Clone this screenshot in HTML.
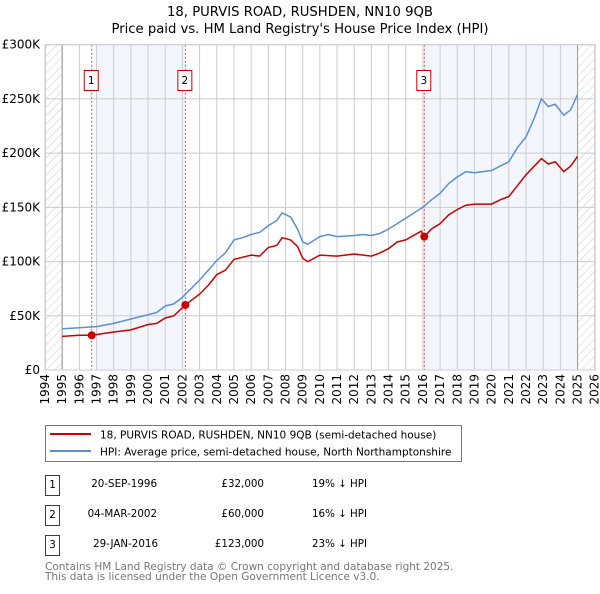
<!DOCTYPE html>
<html><head><meta charset="utf-8"><style>
body{margin:0;background:#fff;font-family:"DejaVu Sans","Liberation Sans",sans-serif}
svg text{font-family:"DejaVu Sans","Liberation Sans",sans-serif}
</style></head><body>
<svg id="c" width="600" height="590" xmlns="http://www.w3.org/2000/svg">
<defs><pattern id="h" width="6" height="6" patternUnits="userSpaceOnUse" patternTransform="rotate(45)"><line x1="0" y1="0" x2="0" y2="6" stroke="#ccc" stroke-width="1"/></pattern></defs>
<text x="300" y="16" text-anchor="middle" font-size="13.2">18, PURVIS ROAD, RUSHDEN, NN10 9QB</text>
<text x="300" y="33" text-anchor="middle" font-size="13.2">Price paid vs. HM Land Registry's House Price Index (HPI)</text>
<g id="plot"></g>
<g>
<rect x="45.5" y="425.5" width="416" height="36" fill="#fff" stroke="#777"/>
<line x1="50" y1="434" x2="91" y2="434" stroke="#cc0000" stroke-width="2"/>
<text x="100" y="438.5" font-size="10.5">18, PURVIS ROAD, RUSHDEN, NN10 9QB (semi-detached house)</text>
<line x1="50" y1="451" x2="91" y2="451" stroke="#5b8fd4" stroke-width="2"/>
<text x="100" y="455.5" font-size="10.5">HPI: Average price, semi-detached house, North Northamptonshire</text>
</g>
<g font-size="10.3">
<rect x="45.5" y="475.5" width="14" height="20" fill="#fff" stroke="#cc0000"/><text x="52.5" y="488" text-anchor="middle">1</text>
<text x="157" y="487" text-anchor="end">20-SEP-1996</text><text x="264" y="487" text-anchor="end">£32,000</text><text x="312" y="487">19% ↓ HPI</text>
<rect x="45.5" y="505.5" width="14" height="20" fill="#fff" stroke="#cc0000"/><text x="52.5" y="518" text-anchor="middle">2</text>
<text x="157" y="517" text-anchor="end">04-MAR-2002</text><text x="264" y="517" text-anchor="end">£60,000</text><text x="312" y="517">16% ↓ HPI</text>
<rect x="45.5" y="535.5" width="14" height="20" fill="#fff" stroke="#cc0000"/><text x="52.5" y="548" text-anchor="middle">3</text>
<text x="158" y="547" text-anchor="end">29-JAN-2016</text><text x="264" y="547" text-anchor="end">£123,000</text><text x="312" y="547">23% ↓ HPI</text>
</g>
<text x="45" y="570" font-size="10.5" fill="#777">Contains HM Land Registry data © Crown copyright and database right 2025.</text>
<text x="45" y="580" font-size="10.5" fill="#777">This data is licensed under the Open Government Licence v3.0.</text>
</svg>
<script>
const hpiYears=[1995,1996,1997,1998,1999,2000,2000.5,2001,2001.5,2002,2002.5,2003,2003.5,2004,2004.5,2005,2005.5,2006,2006.5,2007,2007.5,2007.8,2008.3,2008.7,2009,2009.3,2010,2010.5,2011,2012,2012.5,2013,2013.5,2014,2014.5,2015,2015.5,2016,2016.5,2017,2017.5,2018,2018.5,2019,2019.5,2020,2020.5,2021,2021.5,2022,2022.5,2022.9,2023.3,2023.7,2024.2,2024.6,2025];
const hpiValues=[38,39,40,43,47,51,53,59,61,67,75,83,92,101,108,120,122,125,127,133,138,145,141,130,118,116,123,125,123,124,125,124,126,130,135,140,145,150,157,163,172,178,183,182,183,184,188,192,205,215,233,250,243,245,235,240,254];
const propYears=[1995,1996,1996.72,1998,1999,2000,2000.5,2001,2001.5,2002.17,2003,2003.5,2004,2004.5,2005,2006,2006.5,2007,2007.5,2007.8,2008.3,2008.7,2009,2009.3,2010,2011,2012,2013,2013.5,2014,2014.5,2015,2015.9,2016.08,2016.5,2017,2017.5,2018,2018.5,2019,2020,2020.5,2021,2021.5,2022,2022.9,2023.3,2023.7,2024.2,2024.6,2025];
const propValues=[31,32,32,35,37,42,43,48,50,60,70,78,88,92,102,106,105,113,115,122,120,114,103,100,106,105,107,105,108,112,118,120,128,123,130,135,143,148,152,153,153,157,160,170,180,195,190,192,183,188,197];
const saleYears=[1996.72,2002.17,2016.08];
const saleValues=[32,60,123];
const saleLabels=["1","2","3"];
const yTicks=[0,50,100,150,200,250,300];
const yTickLabels=["£0","£50K","£100K","£150K","£200K","£250K","£300K"];
const xMin=1994,xMax=2026,L=45,R=594.7,T=44.7,B=370;
const X=y=>L+(y-xMin)/(xMax-xMin)*(R-L);
const Y=v=>B-v/300*(B-T);
const NS="http://www.w3.org/2000/svg";
const g=document.getElementById('plot');
function mk(t,a,p){const e=document.createElementNS(NS,t);for(const k in a)e.setAttribute(k,a[k]);(p||g).appendChild(e);return e;}
let e;
e=mk('rect',{x:X(1997),y:T,width:X(2002.17)-X(1997),height:B-T,fill:'#f3f6fd'});


e=mk('rect',{x:X(2016.08),y:T,width:X(2025)-X(2016.08),height:B-T,fill:'#f3f6fd'});


for(let yr=xMin;yr<=xMax;yr++){
 e=mk('line',{x1:X(yr),x2:X(yr),y1:T,y2:B,stroke:'#ccc','stroke-width':1});
 
 
 e=mk('text',{transform:`translate(${X(yr)+4},374) rotate(-90)`,'text-anchor':'end','font-size':12});
 e.textContent=yr;
 
 
}
yTicks.forEach((v,i)=>{
 e=mk('line',{x1:L,x2:R,y1:Y(v),y2:Y(v),stroke:'#ccc','stroke-width':1});
 
 
 e=mk('text',{x:40,y:Y(v)+4,'text-anchor':'end','font-size':12});
 e.textContent=yTickLabels[i];
 
 
});
e=mk('rect',{x:L,y:T,width:X(1995)-L,height:B-T,fill:'url(#h)'});


e=mk('rect',{x:X(2025),y:T,width:R-X(2025),height:B-T,fill:'url(#h)'});


mk('line',{x1:X(1995),x2:X(1995),y1:T,y2:B,stroke:'#999'});
mk('line',{x1:X(2025),x2:X(2025),y1:T,y2:B,stroke:'#999'});
saleYears.forEach((s,i)=>{
 e=mk('line',{x1:X(s),x2:X(s),y1:T,y2:B,stroke:'#e05050','stroke-dasharray':'2,2'});
 
 
 e=mk('rect',{x:X(s)-7.5,y:70.5,width:14,height:20,fill:'#fff',stroke:'#cc0000'});
 
 
 e=mk('text',{x:X(s)-0.5,y:84,'text-anchor':'middle','font-size':10.5});
 e.textContent=saleLabels[i];
 
 
});
e=mk('path',{d:hpiYears.map((y,i)=>(i?'L':'M')+X(y).toFixed(1)+','+Y(hpiValues[i]).toFixed(1)).join(''),fill:'none',stroke:'#5b8fd4','stroke-width':1.5});


e=mk('path',{d:propYears.map((y,i)=>(i?'L':'M')+X(y).toFixed(1)+','+Y(propValues[i]).toFixed(1)).join(''),fill:'none',stroke:'#cc0000','stroke-width':1.5});


saleYears.forEach((s,i)=>{
 e=mk('circle',{cx:X(s),cy:Y(saleValues[i]),r:4,fill:'#cc0000'});
 
 
});
e=mk('rect',{x:L+0.5,y:T,width:R-L,height:B-T,fill:'none',stroke:'#ccc'});
</script>
</body></html>
